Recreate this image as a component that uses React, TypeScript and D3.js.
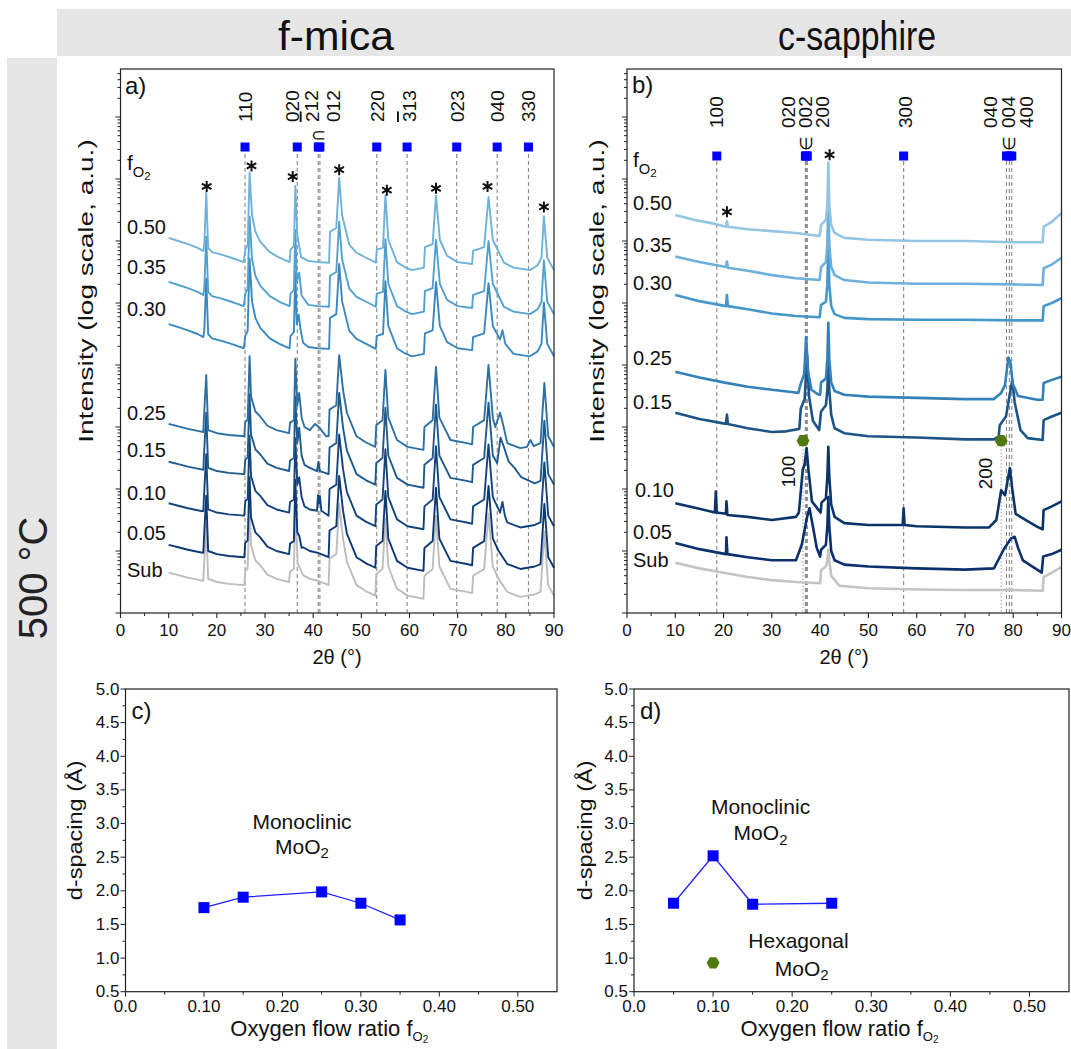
import React from "react";
import * as d3 from "d3";

type Pt = [number, number];

const FONT = "'Liberation Sans', Arial, Helvetica, sans-serif";
const NARROW = "'Liberation Sans Narrow', 'Arial Narrow', 'Liberation Sans', Arial, sans-serif";

// ---------------- XRD data (2θ in degrees, intensity as log10 decades) ----------------
const samplesA = ["0.50", "0.35", "0.30", "0.25", "0.15", "0.10", "0.05", "Sub"];
const baselineA = [6.05, 5.34, 4.66, 3.05, 2.44, 1.77, 1.1, 0.65];
const templateOfA = [0, 0, 0, 1, 1, 1, 1, 1];
const colorsA = ["#6fb2d9", "#52a0cf", "#3a88c0", "#2c6fa3", "#1f5a8e", "#13447c", "#0d3873", "#bdbdbd"];

// mica substrate profile, relative decades (upper and lower stack groups)
const micaUpper: Pt[] = [
  [10, 0], [12, -0.05], [14, -0.1], [16, -0.16], [17.2, -0.21], [17.4, -0.1], [17.8, 0.73], [18.2, -0.16],
  [19, -0.23], [21, -0.27], [23, -0.32], [25.6, -0.39], [25.9, -0.19], [26.4, -0.11], [26.8, 1.05], [27.3, 0.37],
  [28, 0.1], [29, -0.06], [31, -0.23], [33, -0.32], [35.1, -0.39], [35.3, -0.19], [36.0, -0.13], [36.3, 0.84],
  [36.7, 0.05], [37.5, -0.31], [39, -0.37], [41, -0.39], [43.3, -0.4], [43.5, 0.1], [44.8, 0.16], [45.4, 0.97],
  [46, 0.37], [47.5, -0.11], [49, -0.24], [51, -0.32], [53, -0.4], [53.2, -0.19], [54.5, -0.16], [55, 0.69],
  [55.6, -0.03], [57.4, -0.39], [59, -0.47], [60.5, -0.52], [63, -0.48], [63.2, -0.15], [64.8, -0.1], [65.5, 0.68],
  [66.3, -0.03], [67.8, -0.29], [70, -0.39], [73, -0.42], [73.2, -0.21], [75.5, -0.15], [76.4, 0.66], [77.3, -0.03],
  [79.6, -0.4], [81.6, -0.48], [85, -0.52], [86.6, -0.44], [87.4, -0.32], [87.9, 0.35], [88.6, -0.32], [90, -0.52],
];
const micaLower: Pt[] = [
  [10, 0], [12, -0.04], [14, -0.08], [16.5, -0.12], [17.2, -0.13], [17.3, 0.06], [17.8, 0.79], [18.2, -0.1],
  [20, -0.15], [22.5, -0.18], [25.7, -0.2], [25.9, 0.03], [26.4, 0.07], [26.8, 1.09], [27.1, 0.44], [28, 0.2],
  [29, 0.12], [30.5, -0.03], [32.4, -0.1], [35, -0.15], [35.2, 0.02], [36, 0.06], [36.3, 1.05], [36.8, 0.15],
  [37.9, -0.04], [39.3, -0.1], [41, -0.13], [43.2, -0.2], [43.4, 0.23], [44.8, 0.3], [45.4, 1.11], [46.2, 0.55],
  [47, 0.18], [49, -0.2], [51, -0.3], [52.9, -0.37], [53.1, -0.02], [54.4, 0.06], [55, 0.87], [55.6, 0.1],
  [57.4, -0.26], [59.6, -0.37], [62.9, -0.42], [63.1, -0.05], [64.8, 0.06], [65.5, 0.92], [66.2, 0.1], [68.5, -0.26],
  [71.9, -0.31], [73, -0.33], [73.2, -0.05], [75.5, 0.06], [76.4, 0.95], [77.3, 0.1], [78.5, -0.1], [80.3, -0.31],
  [83, -0.39], [86, -0.35], [87.2, -0.31], [88, 0.66], [88.8, -0.2], [90, -0.37],
];
const templatesA = [micaUpper, micaLower];

// film (MoO2) features per sample, relative decades
const filmA: Pt[][][] = [
  [],
  [[[36.6, 0.0], [37.1, 0.15], [37.6, -0.22]]],
  [[[36.6, 0.0], [37.0, 0.15], [37.4, -0.1], [37.9, -0.3]], [[78.8, -0.25], [79.3, -0.1], [79.9, -0.32]]],
  [
    [[36.7, 0.3], [37.1, 0.5], [37.6, 0.1], [38.2, -0.05]],
    [[39.3, -0.1], [40.4, 0.0], [41.2, -0.05], [42.7, -0.2]],
    [[77.8, -0.05], [78.8, 0.18], [79.4, 0.0], [80.3, -0.31]],
    [[84.4, -0.37], [85.1, -0.26], [85.8, -0.36]],
  ],
  [
    [[36.7, 0.3], [37.1, 0.55], [37.6, 0.1], [38.2, -0.05]],
    [[40.8, -0.15], [41.1, 0.0], [41.4, -0.15]],
    [[78.2, -0.02], [78.9, 0.39], [79.6, 0.24], [80.6, 0.0], [81.8, -0.1], [83.2, -0.25]],
  ],
  [
    [[36.7, 0.3], [37.1, 0.42], [37.6, 0.1], [38.2, -0.05]],
    [[40.8, -0.12], [41.0, 0.13], [41.2, 0.0], [41.4, 0.12], [41.7, -0.12]],
    [[78.8, -0.15], [79.3, 0.02], [79.8, -0.2]],
  ],
  [[[36.7, 0.2], [37.1, 0.15], [37.6, -0.05]]],
  [],
];

const refLinesA = [25.85, 36.7, 41.06, 41.4, 53.2, 59.5, 69.8, 78.2, 84.7];
const refLabelsA = [
  { t: "110", x: 25.85, bar: false },
  { t: "020", x: 35.75, bar: false },
  { t: "212", x: 39.7, bar: true },
  { t: "012", x: 44.3, bar: false },
  { t: "220", x: 53.4, bar: false },
  { t: "313", x: 59.9, bar: true },
  { t: "023", x: 70.0, bar: false },
  { t: "040", x: 78.3, bar: false },
  { t: "330", x: 84.7, bar: false },
];
const starsA: Pt[] = [[17.9, 6.88], [27.2, 7.21], [35.75, 7.04], [45.4, 7.15], [55.3, 6.82], [65.5, 6.85], [76.2, 6.88], [87.9, 6.55]];
const labelEA = [6.23, 5.58, 4.9, 3.23, 2.63, 1.94, 1.29, 0.69];

// c-sapphire
const samplesB = ["0.50", "0.35", "0.30", "0.25", "0.15", "0.10", "0.05", "Sub"];
const colorsB = ["#94c5e3", "#6eb0dc", "#4697cc", "#3480b8", "#1d5488", "#0b3569", "#0c2f6e", "#c4c4c4"];
const traceB050: Pt[] = [[10, 6.42], [14, 6.34], [18, 6.28], [20.5, 6.23], [20.7, 6.32], [20.9, 6.23], [25, 6.19], [30, 6.16], [35, 6.13], [39.9, 6.08], [40.2, 6.26], [41.2, 6.34], [41.5, 6.58], [41.7, 7.26], [41.9, 6.58], [42.3, 6.26], [43, 6.13], [45, 6.05], [50, 6.02], [60, 6.0], [70, 6.0], [80, 5.98], [86.1, 5.98], [86.3, 6.23], [88, 6.31], [90, 6.45]];
const traceB035: Pt[] = [[10, 5.75], [15, 5.66], [20.5, 5.58], [20.7, 5.67], [20.9, 5.57], [25, 5.52], [30, 5.45], [35, 5.4], [39.9, 5.37], [40.2, 5.58], [41.2, 5.66], [41.5, 5.95], [41.7, 6.62], [41.9, 5.95], [42.3, 5.58], [43, 5.45], [45, 5.37], [50, 5.33], [60, 5.31], [70, 5.31], [80, 5.3], [86.1, 5.29], [86.3, 5.56], [88, 5.62], [90, 5.73]];
const traceB030: Pt[] = [[10, 5.13], [15, 5.03], [20.5, 4.95], [20.7, 5.13], [20.9, 4.95], [25, 4.9], [30, 4.83], [35, 4.79], [39.9, 4.77], [40.2, 4.97], [41.2, 5.02], [41.5, 5.3], [41.7, 5.9], [41.9, 5.3], [42.3, 4.95], [43, 4.82], [45, 4.76], [50, 4.74], [60, 4.73], [70, 4.73], [80, 4.72], [86.1, 4.72], [86.3, 4.95], [88, 5.0], [90, 5.08]];
const traceB025: Pt[] = [[10, 3.89], [15, 3.8], [20, 3.72], [25, 3.65], [30, 3.6], [34.5, 3.56], [35.5, 3.55], [36.0, 3.7], [36.7, 3.85], [37.1, 4.45], [37.5, 3.9], [38.2, 3.6], [39.5, 3.53], [40.0, 3.52], [40.2, 3.72], [41.2, 3.78], [41.5, 4.1], [41.7, 4.68], [41.9, 4.1], [42.3, 3.72], [43, 3.58], [45, 3.52], [50, 3.49], [60, 3.47], [70, 3.45], [76, 3.45], [77.5, 3.55], [78.3, 3.68], [79.0, 4.12], [79.4, 4.05], [79.9, 3.7], [81, 3.5], [85, 3.44], [86.1, 3.44], [86.3, 3.71], [88, 3.76], [90, 3.81]];
const traceB015: Pt[] = [[10, 3.23], [15, 3.13], [20.5, 3.05], [20.7, 3.2], [20.9, 3.05], [25, 2.98], [30, 2.92], [33, 2.93], [35.7, 2.97], [36.0, 3.3], [36.8, 3.45], [37.3, 4.16], [37.7, 3.5], [38.5, 3.1], [39.8, 2.95], [40.2, 3.25], [41.2, 3.35], [41.5, 3.6], [41.7, 4.0], [41.9, 3.6], [42.3, 3.2], [43, 2.98], [45, 2.9], [50, 2.85], [60, 2.83], [70, 2.8], [76, 2.8], [77.0, 2.85], [77.2, 3.03], [78.5, 3.17], [79.8, 3.76], [80.3, 3.4], [81.5, 2.95], [83, 2.82], [86.1, 2.79], [86.3, 3.11], [88, 3.17], [90, 3.23]];
const traceB010: Pt[] = [[10, 1.77], [15, 1.68], [18.2, 1.62], [18.4, 1.96], [18.6, 1.62], [20.5, 1.6], [20.6, 1.8], [20.8, 1.58], [25, 1.55], [30, 1.5], [35, 1.55], [35.6, 1.62], [36.4, 2.31], [36.8, 2.4], [37.2, 2.66], [37.6, 2.3], [38.3, 1.8], [39.5, 1.68], [40.1, 1.62], [40.3, 1.78], [41.2, 1.85], [41.5, 2.2], [41.7, 2.68], [41.9, 2.2], [42.3, 1.75], [43, 1.55], [45, 1.45], [50, 1.42], [57.1, 1.42], [57.3, 1.69], [57.5, 1.42], [60, 1.4], [70, 1.38], [75, 1.38], [76.5, 1.5], [77.5, 1.98], [78.3, 1.9], [79.3, 2.34], [79.8, 2.0], [80.5, 1.6], [81.5, 1.55], [85, 1.39], [86.1, 1.35], [86.3, 1.66], [88, 1.72], [90, 1.8]];
const traceB005: Pt[] = [[10, 1.13], [15, 1.03], [20.5, 0.95], [20.6, 1.22], [20.8, 0.95], [25, 0.9], [30, 0.85], [35, 0.85], [36.2, 1.1], [37.3, 1.55], [37.8, 1.69], [38.5, 1.4], [39.3, 1.05], [40.0, 0.91], [40.2, 1.02], [41.2, 1.1], [41.5, 1.4], [41.7, 1.87], [41.9, 1.4], [42.3, 1.0], [43, 0.85], [45, 0.78], [50, 0.75], [60, 0.72], [70, 0.7], [76, 0.72], [78, 1.02], [79.5, 1.2], [80.3, 1.23], [81, 1.05], [82, 0.85], [85.9, 0.65], [86.2, 0.91], [88, 0.95], [90, 1.02]];
const traceBSub: Pt[] = [[10, 0.81], [15, 0.72], [20, 0.65], [25, 0.58], [30, 0.53], [35, 0.5], [40.0, 0.48], [40.2, 0.69], [41.2, 0.75], [41.5, 0.85], [41.7, 1.02], [41.9, 0.85], [42.3, 0.6], [44, 0.44], [50, 0.4], [60, 0.38], [70, 0.37], [80, 0.37], [86.1, 0.36], [86.3, 0.58], [88, 0.65], [90, 0.74]];
const tracesB = [traceB050, traceB035, traceB030, traceB025, traceB015, traceB010, traceB005, traceBSub];
const labelEB = [6.61, 5.94, 5.32, 4.11, 3.4, 1.98, 1.31, 0.85];

const refLinesB = [18.6, 36.95, 37.15, 37.35, 57.3, 78.6, 79.2, 79.7];
const refLabelsB = [
  { t: "100", x: 18.6 }, { t: "020", x: 33.4 }, { t: "002", x: 37.0 }, { t: "200", x: 40.5 },
  { t: "300", x: 57.6 }, { t: "040", x: 75.3 }, { t: "004", x: 79.0 }, { t: "400", x: 82.8 },
];
const hexLinesB = [36.45, 77.5];
const hexPointsB: Pt[] = [[36.45, 2.78], [77.5, 2.78]];
const hexLabelsB = [{ t: "100", x: 33.5, e: 2.28 }, { t: "200", x: 74.3, e: 2.25 }];
const starsB: Pt[] = [[41.97, 7.39], [20.7, 6.47]];

// ---------------- d-spacing data ----------------
const fo2C = [0.1, 0.15, 0.25, 0.3, 0.35];
const dC = [1.75, 1.905, 1.984, 1.815, 1.567];
const fo2D = [0.05, 0.1, 0.15, 0.25];
const dD = [1.815, 2.52, 1.8, 1.815];
const hexD: Pt[] = [[0.1, 0.93]];

// ---------------- layout ----------------
const XRD_TOP = 69;
const XRD_BOTTOM = 613;
const PX_PER_DECADE = 62;
const E_MAX = (XRD_BOTTOM - XRD_TOP) / PX_PER_DECADE;

function buildTrace(template: Pt[], offset: number, features: Pt[][]): Pt[] {
  let pts: Pt[] = template.map(([x, r]) => [x, offset + r] as Pt);
  for (const f of features) {
    const lo = f[0][0];
    const hi = f[f.length - 1][0];
    pts = pts.filter((p) => p[0] < lo || p[0] > hi);
    pts = pts.concat(f.map(([x, r]) => [x, offset + r] as Pt));
  }
  return pts.sort((a, b) => a[0] - b[0]);
}

function hexPath(cx: number, cy: number, r: number) {
  const pts = d3.range(6).map((i) => {
    const a = (Math.PI / 3) * i;
    return [cx + r * Math.cos(a), cy + r * Math.sin(a)];
  });
  return "M" + pts.map((p) => p.join(",")).join("L") + "Z";
}

function starPath(cx: number, cy: number, r: number) {
  let d = "";
  for (const a of [90, 30, 150]) {
    const t = (a * Math.PI) / 180;
    d += `M${cx - r * Math.cos(t)},${cy - r * Math.sin(t)}L${cx + r * Math.cos(t)},${cy + r * Math.sin(t)}`;
  }
  return d;
}

const ys = d3.scaleLog().domain([1, Math.pow(10, E_MAX)]).range([XRD_BOTTOM, XRD_TOP]);
const yE = (e: number) => ys(Math.pow(10, e));

function logTicks() {
  const out: { v: number; major: boolean }[] = [];
  for (let k = 0; k <= 9; k++) {
    for (let m = 1; m <= 9; m++) {
      const v = m * Math.pow(10, k);
      if (v <= Math.pow(10, E_MAX)) out.push({ v, major: m === 1 });
    }
  }
  return out;
}

function XrdFrame({ xs, yLabelX, titleX }: { xs: d3.ScaleLinear<number, number>; yLabelX: number; titleX: number }) {
  const [x0, x1] = xs.range();
  const majors = d3.range(0, 91, 10);
  const minors = d3.range(5, 90, 10);
  return (
    <g>
      <rect x={x0} y={XRD_TOP} width={x1 - x0} height={XRD_BOTTOM - XRD_TOP} fill="none" stroke="#222" strokeWidth={1.2} />
      {majors.map((v) => (
        <g key={"mx" + v}>
          <line x1={xs(v)} x2={xs(v)} y1={XRD_BOTTOM} y2={XRD_BOTTOM + 5} stroke="#222" strokeWidth={1.1} />
          <text x={xs(v)} y={XRD_BOTTOM + 23} textAnchor="middle" fontSize={17} fill="#111">{v}</text>
        </g>
      ))}
      {minors.map((v) => (
        <line key={"nx" + v} x1={xs(v)} x2={xs(v)} y1={XRD_BOTTOM} y2={XRD_BOTTOM + 3} stroke="#222" strokeWidth={1} />
      ))}
      {logTicks().map((t, i) => (
        <line key={"ly" + i} x1={x0} x2={x0 - (t.major ? 5 : 3)} y1={ys(t.v)} y2={ys(t.v)} stroke="#222" strokeWidth={1} />
      ))}
      <text x={titleX} y={XRD_BOTTOM + 51} textAnchor="middle" fontSize={20} fill="#111">2θ (°)</text>
      <text
        transform={`translate(${yLabelX},291) rotate(-90) scale(1.4,1)`}
        textAnchor="middle"
        dominantBaseline="central"
        fontSize={20}
        fill="#111"
      >
        Intensity (log scale, a.u.)
      </text>
    </g>
  );
}

function FO2({ x, y, size }: { x: number; y: number; size: number }) {
  return (
    <text x={x} y={y} fontSize={size} fill="#111">
      f
      <tspan fontSize={size * 0.7} dy={size * 0.32}>O</tspan>
      <tspan fontSize={size * 0.55} dy={size * 0.15}>2</tspan>
    </text>
  );
}

function DPanel({
  x0, x1, fo2, d, hex, label, texts, yLabelX,
}: {
  x0: number; x1: number; fo2: number[]; d: number[]; hex: Pt[]; label: string;
  texts: { t: string; sub?: boolean; x: number; y: number }[]; yLabelX: number;
}) {
  const top = 689;
  const bottom = 991.7;
  const xs = d3.scaleLinear().domain([0, 0.55]).range([x0, x1]);
  const yd = d3.scaleLinear().domain([0.5, 5]).range([bottom, top]);
  const pts: Pt[] = fo2.map((f, i) => [f, d[i]]);
  const line = d3.line<Pt>().x((p) => xs(p[0])).y((p) => yd(p[1]));
  const xMaj = d3.range(0, 0.551, 0.1);
  const xMin = d3.range(0.05, 0.55, 0.1);
  const yMaj = d3.range(0.5, 5.01, 0.5);
  const yMin = d3.range(0.75, 5, 0.5);
  return (
    <g>
      <rect x={x0} y={top} width={x1 - x0} height={bottom - top} fill="none" stroke="#222" strokeWidth={1.2} />
      {xMaj.map((v, i) => (
        <g key={"xm" + i}>
          <line x1={xs(v)} x2={xs(v)} y1={bottom} y2={bottom + 5} stroke="#222" />
          <text x={xs(v)} y={bottom + 20} textAnchor="middle" fontSize={17} fontFamily={NARROW} fill="#111">
            {i === 0 ? "0.0" : v.toFixed(2)}
          </text>
        </g>
      ))}
      {xMin.map((v, i) => (
        <line key={"xn" + i} x1={xs(v)} x2={xs(v)} y1={bottom} y2={bottom + 3} stroke="#222" />
      ))}
      {yMaj.map((v, i) => (
        <g key={"ym" + i}>
          <line x1={x0} x2={x0 - 5} y1={yd(v)} y2={yd(v)} stroke="#222" />
          <text x={x0 - 6} y={yd(v)} textAnchor="end" dominantBaseline="central" fontSize={17} fontFamily={NARROW} fill="#111">
            {v.toFixed(1)}
          </text>
        </g>
      ))}
      {yMin.map((v, i) => (
        <line key={"yn" + i} x1={x0} x2={x0 - 3} y1={yd(v)} y2={yd(v)} stroke="#222" />
      ))}
      <path d={line(pts) || ""} fill="none" stroke="#2020ff" strokeWidth={1.3} />
      {pts.map((p, i) => (
        <rect key={"sq" + i} x={xs(p[0]) - 5.5} y={yd(p[1]) - 5.5} width={11} height={11} fill="#0000ff" />
      ))}
      {hex.map((p, i) => (
        <path key={"hx" + i} d={hexPath(xs(p[0]), yd(p[1]), 6.5)} fill="#4f7a0e" />
      ))}
      <text x={x0 + 6} y={top + 30} fontSize={24} fill="#111">{label}</text>
      {texts.map((t, i) => (
        <text key={"t" + i} x={xs(t.x)} y={yd(t.y)} textAnchor="middle" dominantBaseline="central" fontSize={21} fill="#111">
          {t.sub ? (
            <>
              MoO<tspan fontSize={15} dy={6}>2</tspan>
            </>
          ) : (
            t.t
          )}
        </text>
      ))}
      <text
        transform={`translate(${yLabelX},${(top + bottom) / 2 - 10}) rotate(-90) scale(1.12,1)`}
        textAnchor="middle"
        dominantBaseline="central"
        fontSize={21}
        fill="#111"
      >
        d-spacing (Å)
      </text>
      <text x={(x0 + x1) / 2 - 12} y={1036} textAnchor="middle" fontSize={22} fill="#111">
        Oxygen flow ratio f<tspan fontSize={13} dy={5}>O</tspan>
        <tspan fontSize={10} dy={2}>2</tspan>
      </text>
    </g>
  );
}

export default function App() {
  const xsA = d3.scaleLinear().domain([0, 90]).range([120.5, 554]);
  const xsB = d3.scaleLinear().domain([0, 90]).range([627, 1061.5]);
  const lineA = d3.line<Pt>().x((p) => xsA(p[0])).y((p) => yE(p[1]));
  const lineB = d3.line<Pt>().x((p) => xsB(p[0])).y((p) => yE(p[1]));
  const tracesA = samplesA.map((_, i) => buildTrace(templatesA[templateOfA[i]], baselineA[i], filmA[i]));
  const order = d3.range(samplesA.length).reverse();

  return (
    <svg width={1071} height={1049} style={{ position: "absolute", left: 0, top: 0, background: "#fff" }} fontFamily={FONT}>
      <rect x={0} y={0} width={1071} height={1049} fill="#fff" />
      {/* header and side bands */}
      <rect x={57} y={9} width={1014} height={47} fill="#e6e6e6" />
      <rect x={7} y={58} width={50} height={991} fill="#e6e6e6" />
      <text x={336} y={50} textAnchor="middle" fontSize={40} textLength={116} lengthAdjust="spacingAndGlyphs" fill="#111">f-mica</text>
      <text x={857} y={50} textAnchor="middle" fontSize={40} textLength={158} lengthAdjust="spacingAndGlyphs" fill="#111">c-sapphire</text>
      <text transform="translate(33,578) rotate(-90)" textAnchor="middle" dominantBaseline="central" fontSize={40} fill="#222">500 °C</text>

      {/* ---------- panel a ---------- */}
      <g>
        {refLinesA.map((v, i) => (
          <line key={"ra" + i} x1={xsA(v)} x2={xsA(v)} y1={154} y2={XRD_BOTTOM} stroke="#888" strokeWidth={1.1} strokeDasharray="4,3" />
        ))}
        {order.map((i) => (
          <path key={"ta" + i} d={lineA(tracesA[i]) || ""} fill="none" stroke={colorsA[i]} strokeWidth={1.9} strokeLinejoin="round" />
        ))}
        {refLinesA.map((v, i) => (
          <rect key={"sa" + i} x={xsA(v) - 4.5} y={142.5} width={9} height={9} fill="#0000ff" />
        ))}
        {refLabelsA.map((l, i) => (
          <text key={"la" + i} transform={`translate(${xsA(l.x)},122) rotate(-90)`} dominantBaseline="central" fontSize={19} fill="#111">
            {l.bar ? (
              <>
                <tspan style={{ textDecoration: "overline" }}>{l.t[0]}</tspan>
                {l.t.slice(1)}
              </>
            ) : (
              l.t
            )}
          </text>
        ))}
        <text x={xsA(41.2)} y={135} textAnchor="middle" dominantBaseline="central" fontSize={18} fill="#111">⊂</text>
        {starsA.map((p, i) => (
          <path key={"st" + i} d={starPath(xsA(p[0]), yE(p[1]), 5.5)} stroke="#111" strokeWidth={2} />
        ))}
        {samplesA.map((s, i) => (
          <text key={"na" + i} x={127} y={yE(labelEA[i])} dominantBaseline="central" fontSize={20} fill="#111">{s}</text>
        ))}
        <FO2 x={127} y={170} size={21} />
        <text x={125} y={94} fontSize={24} fill="#111">a)</text>
        <XrdFrame xs={xsA} yLabelX={86} titleX={337} />
      </g>

      {/* ---------- panel b ---------- */}
      <g>
        {refLinesB.map((v, i) => (
          <line key={"rb" + i} x1={xsB(v)} x2={xsB(v)} y1={161} y2={XRD_BOTTOM} stroke="#888" strokeWidth={1.1} strokeDasharray="4,3" />
        ))}
        {hexLinesB.map((v, i) => (
          <line key={"hb" + i} x1={xsB(v)} x2={xsB(v)} y1={yE(hexPointsB[i][1]) + 5} y2={XRD_BOTTOM} stroke="#999" strokeWidth={1} strokeDasharray="1.5,2" />
        ))}
        {order.map((i) => (
          <path key={"tb" + i} d={lineB(tracesB[i]) || ""} fill="none" stroke={colorsB[i]} strokeWidth={2.6} strokeLinejoin="round" />
        ))}
        {refLinesB.map((v, i) => (
          <rect key={"sb" + i} x={xsB(v) - 4.5} y={151.5} width={9} height={9} fill="#0000ff" />
        ))}
        {refLabelsB.map((l, i) => (
          <text key={"lb" + i} transform={`translate(${xsB(l.x)},128) rotate(-90)`} dominantBaseline="central" fontSize={19} fill="#111">
            {l.t}
          </text>
        ))}
        {[37.15, 79.2].map((v, i) => (
          <text key={"in" + i} transform={`translate(${xsB(v)},143) rotate(-90)`} textAnchor="middle" dominantBaseline="central" fontSize={17} fill="#111">∈</text>
        ))}
        {hexPointsB.map((p, i) => (
          <path key={"hp" + i} d={hexPath(xsB(p[0]), yE(p[1]), 6.5)} fill="#4f7a0e" />
        ))}
        {hexLabelsB.map((l, i) => (
          <text key={"hl" + i} transform={`translate(${xsB(l.x)},${yE(l.e)}) rotate(-90)`} textAnchor="middle" dominantBaseline="central" fontSize={19} fill="#111">
            {l.t}
          </text>
        ))}
        {starsB.map((p, i) => (
          <path key={"sb2" + i} d={starPath(xsB(p[0]), yE(p[1]), 5.5)} stroke="#111" strokeWidth={2} />
        ))}
        {samplesB.map((s, i) => (
          <text key={"nb" + i} x={i === 5 ? 635 : 633} y={yE(labelEB[i])} dominantBaseline="central" fontSize={20} fill="#111">{s}</text>
        ))}
        <FO2 x={633} y={167} size={21} />
        <text x={632} y={93} fontSize={24} fill="#111">b)</text>
        <XrdFrame xs={xsB} yLabelX={597} titleX={844} />
      </g>

      {/* ---------- panel c ---------- */}
      <DPanel
        x0={125.5}
        x1={557}
        fo2={fo2C}
        d={dC}
        hex={[]}
        label="c)"
        yLabelX={75}
        texts={[
          { t: "Monoclinic", x: 0.225, y: 3.03 },
          { t: "MoO2", sub: true, x: 0.225, y: 2.66 },
        ]}
      />
      {/* ---------- panel d ---------- */}
      <DPanel
        x0={634}
        x1={1069}
        fo2={fo2D}
        d={dD}
        hex={hexD}
        label="d)"
        yLabelX={585}
        texts={[
          { t: "Monoclinic", x: 0.16, y: 3.25 },
          { t: "MoO2", sub: true, x: 0.16, y: 2.86 },
          { t: "Hexagonal", x: 0.208, y: 1.26 },
          { t: "MoO2", sub: true, x: 0.212, y: 0.85 },
        ]}
      />
    </svg>
  );
}
